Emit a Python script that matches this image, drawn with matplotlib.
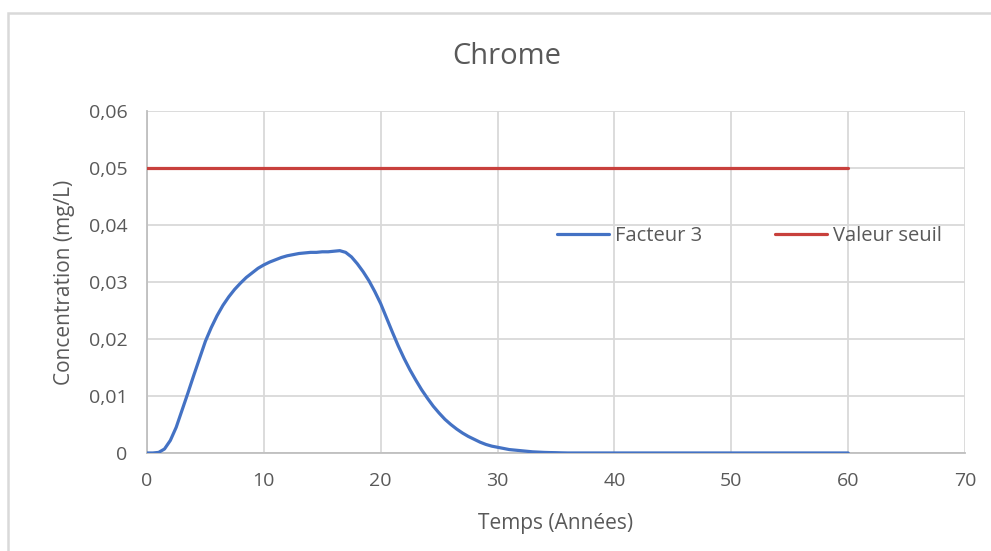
import matplotlib.pyplot as plt
from matplotlib.ticker import FuncFormatter
import matplotlib.patches as mpatches

# Chrome concentration (mg/L) over time (years), sampled every half year up to 36
temps = [0, 0.5, 1, 1.5, 2, 2.5, 3, 3.5, 4, 4.5, 5, 5.5, 6, 6.5, 7, 7.5, 8, 8.5, 9, 9.5,
         10, 10.5, 11, 11.5, 12, 12.5, 13, 13.5, 14, 14.5, 15, 15.5, 16, 16.5, 17, 17.5,
         18, 18.5, 19, 19.5, 20, 20.5, 21, 21.5, 22, 22.5, 23, 23.5, 24, 24.5, 25, 25.5,
         26, 26.5, 27, 27.5, 28, 28.5, 29, 29.5, 30, 30.5, 31, 31.5, 32, 32.5, 33, 33.5,
         34, 34.5, 35, 35.5, 36, 40, 45, 50, 55, 60]
facteur_3 = [0, 0, 0.0001, 0.0007, 0.0022, 0.0045, 0.0075, 0.0105, 0.0136, 0.0166,
             0.0196, 0.0220, 0.0241, 0.0259, 0.0274, 0.0287, 0.0298, 0.0308, 0.0316, 0.0324,
             0.0330, 0.0335, 0.0339, 0.0343, 0.0346, 0.0348, 0.0350, 0.0351, 0.0352, 0.0352,
             0.0353, 0.0353, 0.0354, 0.0355, 0.0352, 0.0344, 0.0332, 0.0318, 0.0302, 0.0283,
             0.0262, 0.0237, 0.0212, 0.0188, 0.0166, 0.0146, 0.0128, 0.0111, 0.0096, 0.0082,
             0.0070, 0.0059, 0.0050, 0.0042, 0.0035, 0.0029, 0.0024, 0.0019, 0.0015, 0.0012,
             0.0010, 0.0008, 0.0006, 0.0005, 0.0004, 0.0003, 0.0002, 0.00015, 0.0001, 0.00007,
             0.00005, 0.00002, 0, 0, 0, 0, 0, 0]
seuil_temps = [0, 60]
valeur_seuil = [0.05, 0.05]

x_ticks = [0, 10, 20, 30, 40, 50, 60, 70]
y_ticks = [0, 0.01, 0.02, 0.03, 0.04, 0.05, 0.06]

plt.rcParams['font.family'] = ['Open Sans', 'DejaVu Sans']
text_color = '#595959'

fig = plt.figure(figsize=(9.91, 5.51), dpi=100)
ax = fig.add_axes([0.1483, 0.1779, 0.8255, 0.6206])

# light frame around the chart area
fig.patches.append(mpatches.Rectangle((8 / 991, -0.1), 1.2, 1 - 13 / 551 + 0.1,
                                      transform=fig.transFigure, fill=False,
                                      edgecolor='#d9d9d9', linewidth=1.8))

ax.plot(temps, facteur_3, color='#4472C4', linewidth=2.3, label='Facteur 3',
        solid_capstyle='round', solid_joinstyle='round', zorder=3)
ax.plot(seuil_temps, valeur_seuil, color='#C8403C', linewidth=2.3, label='Valeur seuil',
        solid_capstyle='round', zorder=3)

ax.set_xlim(0, 70)
ax.set_ylim(0, 0.06)
ax.set_xticks(x_ticks)
ax.set_yticks(y_ticks)
ax.yaxis.set_major_formatter(FuncFormatter(lambda v, p: '0' if v == 0 else f'{v:.2f}'.replace('.', ',')))
ax.grid(True, color='#d9d9d9', linewidth=1.3)
ax.set_axisbelow(True)
for side in ['top', 'right']:
    ax.spines[side].set_visible(False)
for side in ['left', 'bottom']:
    ax.spines[side].set_color('#bfbfbf')
    ax.spines[side].set_linewidth(1.3)
ax.tick_params(length=0, labelsize=14, colors=text_color)
ax.tick_params(axis='x', pad=14)
ax.tick_params(axis='y', pad=14)

fig.text(507 / 991, 1 - 57 / 551, 'Chrome', fontsize=21, color=text_color,
         ha='center', va='center')
ax.set_xlabel('Temps (Années)', fontsize=15, color=text_color, labelpad=16)
ax.set_ylabel('Concentration (mg/L)', fontsize=15, color=text_color, labelpad=10)

leg = ax.legend(loc='center left', bbox_to_anchor=(0.501, 0.634), ncol=2, frameon=False,
                fontsize=14.5, handlelength=2.6, handletextpad=0.3, columnspacing=3.6,
                borderpad=0, borderaxespad=0)
for t in leg.get_texts():
    t.set_color(text_color)

fig.savefig('out.png', dpi=100)
